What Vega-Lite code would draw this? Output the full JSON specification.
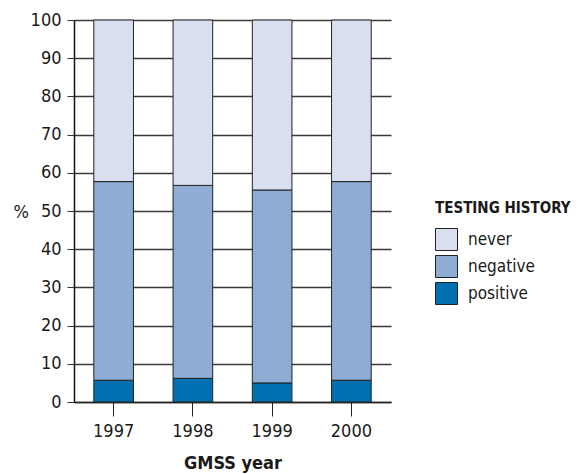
{
  "$schema": "https://vega.github.io/schema/vega-lite/v6.json",
  "width": 317,
  "height": 382,
  "autosize": {"type": "none"},
  "padding": {"left": 74, "top": 20, "right": 192, "bottom": 72},
  "background": "white",
  "config": {
    "font": "DejaVu Sans Condensed, Liberation Sans Narrow, sans-serif",
    "view": {"stroke": null}
  },
  "data": {
    "values": [
      {"year": "1997", "history": "positive", "pct": 5.7, "ord": 1},
      {"year": "1997", "history": "negative", "pct": 52.0, "ord": 2},
      {"year": "1997", "history": "never", "pct": 42.3, "ord": 3},
      {"year": "1998", "history": "positive", "pct": 6.2, "ord": 1},
      {"year": "1998", "history": "negative", "pct": 50.5, "ord": 2},
      {"year": "1998", "history": "never", "pct": 43.3, "ord": 3},
      {"year": "1999", "history": "positive", "pct": 5.0, "ord": 1},
      {"year": "1999", "history": "negative", "pct": 50.5, "ord": 2},
      {"year": "1999", "history": "never", "pct": 44.5, "ord": 3},
      {"year": "2000", "history": "positive", "pct": 5.7, "ord": 1},
      {"year": "2000", "history": "negative", "pct": 52.0, "ord": 2},
      {"year": "2000", "history": "never", "pct": 42.3, "ord": 3}
    ]
  },
  "mark": {"type": "bar", "stroke": "#222222", "strokeWidth": 1},
  "encoding": {
    "x": {
      "field": "year",
      "type": "ordinal",
      "scale": {"paddingInner": 0.5, "paddingOuter": 0.25},
      "axis": {
        "title": "GMSS year",
        "titleFontSize": 18,
        "titleFontWeight": "bold",
        "titleColor": "#1a1a1a",
        "titlePadding": 14,
        "labelAngle": 0,
        "labelFontSize": 18,
        "labelColor": "#1a1a1a",
        "labelPadding": 6,
        "tickSize": 14,
        "tickColor": "#222222",
        "domainColor": "#222222",
        "domainWidth": 1.5,
        "grid": false
      }
    },
    "y": {
      "field": "pct",
      "type": "quantitative",
      "stack": "zero",
      "scale": {"domain": [0, 100], "nice": false},
      "axis": {
        "title": "%",
        "titleAngle": 0,
        "titleFontSize": 18,
        "titleFontWeight": "normal",
        "titleColor": "#1a1a1a",
        "titleX": -61,
        "titleY": 192,
        "titleAlign": "left",
        "titleBaseline": "middle",
        "values": [0, 10, 20, 30, 40, 50, 60, 70, 80, 90, 100],
        "labelFontSize": 18,
        "labelColor": "#1a1a1a",
        "labelPadding": 6,
        "tickSize": 7,
        "tickColor": "#333333",
        "domainColor": "#111111",
        "domainWidth": 1.5,
        "grid": true,
        "gridColor": "#3a3a3a",
        "gridWidth": 1.3,
        "gridOpacity": 1
      }
    },
    "color": {
      "field": "history",
      "type": "nominal",
      "scale": {
        "domain": ["never", "negative", "positive"],
        "range": ["#d9dfef", "#8eacd4", "#0070b0"]
      },
      "legend": {
        "title": "TESTING HISTORY",
        "orient": "none",
        "legendX": 361,
        "legendY": 181,
        "titleFontSize": 15,
        "titleFontWeight": "bold",
        "titleColor": "#1a1a1a",
        "titlePadding": 12,
        "titleLimit": 200,
        "labelFontSize": 17,
        "labelColor": "#1a1a1a",
        "labelOffset": 10,
        "symbolType": "square",
        "symbolSize": 484,
        "symbolStrokeColor": "#222222",
        "symbolStrokeWidth": 1,
        "symbolOpacity": 1,
        "rowPadding": 0
      }
    },
    "order": {"field": "ord", "type": "quantitative"}
  }
}
